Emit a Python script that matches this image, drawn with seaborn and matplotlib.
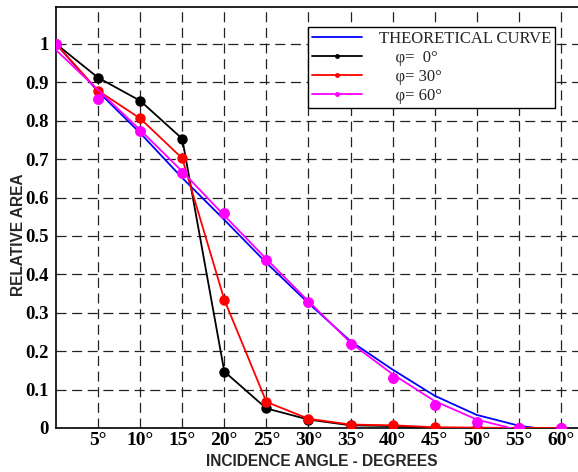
import matplotlib
matplotlib.use("Agg")
import matplotlib.pyplot as plt
import seaborn as sns
import pandas as pd
from matplotlib.lines import Line2D

# ---- data ----
theory_x = [0, 5, 10, 15, 20, 25, 30, 35, 40, 45, 50, 55, 57]
theory_y = [1.0, 0.876, 0.768, 0.651, 0.542, 0.43, 0.325, 0.226, 0.152, 0.084, 0.034, 0.006, 0.0]

angles = [0, 5, 10, 15, 20, 25, 30, 35, 40, 45, 50, 55, 60]
phi0 = [1.0, 0.912, 0.852, 0.753, 0.147, 0.051, 0.022, 0.007, 0.005, 0.0, 0.0, 0.0, 0.0]
phi30 = [1.0, 0.878, 0.806, 0.702, 0.334, 0.068, 0.024, 0.009, 0.007, 0.002, 0.001, 0.0, 0.0]
phi60 = [1.0, 0.857, 0.774, 0.664, 0.559, 0.438, 0.327, 0.219, 0.130, 0.061, 0.016, 0.0, 0.0]

fit60_x = [0, 5, 10, 15, 20, 25, 30, 35, 40, 45, 50, 54]
fit60_y = [0.984, 0.88, 0.776, 0.668, 0.553, 0.44, 0.33, 0.222, 0.14, 0.07, 0.022, 0.0]

xtick_vals = [5, 10, 15, 20, 25, 30, 35, 40, 45, 50, 55, 60]
xtick_labels = ["5°", "10°", "15°", "20°", "25°", "30°", "35°", "40°", "45°", "50°", "55°", "60°"]
ytick_vals = [0, 0.1, 0.2, 0.3, 0.4, 0.5, 0.6, 0.7, 0.8, 0.9, 1.0]
ytick_labels = ["0", "0.1", "0.2", "0.3", "0.4", "0.5", "0.6", "0.7", "0.8", "0.9", "1"]

legend_labels = ["THEORETICAL CURVE", "    φ=  0°", "    φ= 30°", "    φ= 60°"]

# ---- plot ----
sns.set_theme(style="white")
plt.rcParams["font.family"] = ["Liberation Serif", "DejaVu Serif"]

fig = plt.figure(figsize=(5.78, 4.72), dpi=100)
ax = fig.add_axes([56 / 578, 44 / 472, 547 / 578, 421 / 472])

df_t = pd.DataFrame({"x": theory_x, "y": theory_y})
df_0 = pd.DataFrame({"x": angles, "y": phi0})
df_30 = pd.DataFrame({"x": angles, "y": phi30})
df_60 = pd.DataFrame({"x": angles, "y": phi60})
df_f = pd.DataFrame({"x": fit60_x, "y": fit60_y})

lw = 1.3
sns.lineplot(data=df_t, x="x", y="y", ax=ax, color="#0000ff", lw=lw, sort=False, zorder=3)
sns.lineplot(data=df_0, x="x", y="y", ax=ax, color="black", lw=lw, marker="o",
             markersize=7.5, markeredgewidth=0, sort=False, zorder=4)
sns.lineplot(data=df_30, x="x", y="y", ax=ax, color="#ff0000", lw=lw, marker="o",
             markersize=7.5, markeredgewidth=0, sort=False, zorder=5)
sns.lineplot(data=df_f, x="x", y="y", ax=ax, color="#ff00ff", lw=lw, sort=False, zorder=6)
sns.scatterplot(data=df_60, x="x", y="y", ax=ax, color="#ff00ff", s=62, linewidth=0, zorder=7)

ax.set_xlim(0, 65)
ax.set_ylim(0, 1.096)
ax.set_xticks(xtick_vals)
ax.set_xticklabels(xtick_labels, fontsize=14, fontweight="bold")
ax.set_yticks(ytick_vals)
ax.set_yticklabels(ytick_labels, fontsize=13.5, fontweight="bold")
ax.tick_params(axis="x", length=0, pad=3, colors="black")
ax.tick_params(axis="y", length=0, pad=5, colors="black")

ax.grid(True, color="#222222", linestyle=(0, (8, 4.5)), linewidth=0.9)
for s in ["left", "bottom", "top", "right"]:
    ax.spines[s].set_visible(True)
    ax.spines[s].set_color("black")
    ax.spines[s].set_linewidth(1.2)

ax.set_xlabel("INCIDENCE ANGLE - DEGREES", fontsize=11.2, fontweight="bold",
              family=["Liberation Sans", "DejaVu Sans"])
ax.set_ylabel("RELATIVE AREA", fontsize=11.2, fontweight="bold",
              family=["Liberation Sans", "DejaVu Sans"])
ax.xaxis.set_label_coords((322 - 56) / 547, (428 - 461) / 421)
ax.yaxis.set_label_coords((18 - 56) / 547, (428 - 235) / 421)
ax.xaxis.label.set_va("center")
ax.yaxis.label.set_va("center")

handles = [
    Line2D([], [], color="#0000ff", lw=lw),
    Line2D([], [], color="black", lw=lw, marker="o", markersize=2.5),
    Line2D([], [], color="#ff0000", lw=lw, marker="o", markersize=2.5),
    Line2D([], [], color="#ff00ff", lw=lw, marker="o", markersize=2.5),
]
leg = ax.legend(handles, legend_labels, loc="upper left",
                bbox_to_anchor=((308 - 56) / 547, (428 - 27) / 421),
                fontsize=12, frameon=True, fancybox=False, framealpha=1,
                edgecolor="black", handlelength=3.0, handletextpad=1.0,
                borderpad=0.25, labelspacing=0.17, borderaxespad=0)
leg.get_frame().set_linewidth(1.0)
leg.set_zorder(10)

fig.savefig("out.png", dpi=100)
